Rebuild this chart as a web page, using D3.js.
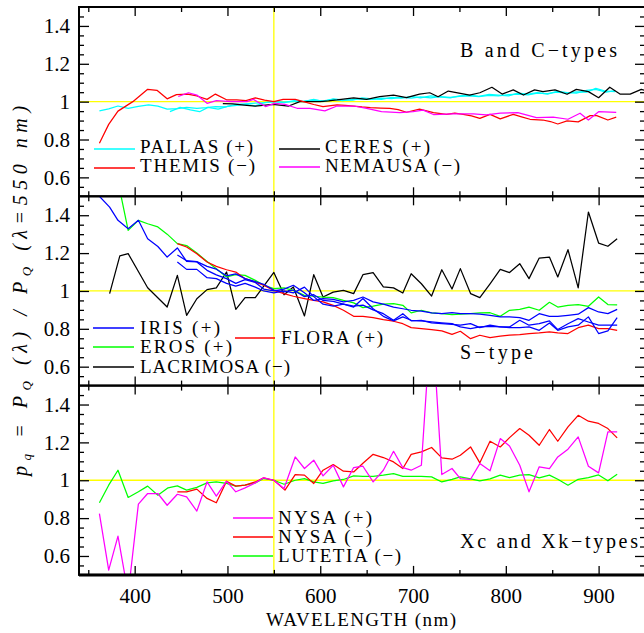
<!DOCTYPE html>
<html><head><meta charset="utf-8">
<script src="https://cdn.jsdelivr.net/npm/d3@7"></script>
<style>
body{margin:0;background:#fff}
svg{display:block}
text{font-family:"Liberation Serif","DejaVu Serif","Times New Roman",serif;fill:#000}
</style>
</head><body>
<svg id="chart" width="644" height="633"></svg>
<script>
// ---------------- DATA ----------------
const xMajorTicks = [400, 500, 600, 700, 800, 900];
const yMajorTicks = [0.6, 0.8, 1.0, 1.2, 1.4];
const refWavelength = 550;
const refLevel = 1.0;

// Panel 1: B and C-types  [wavelength nm, Pq ratio]
const pallasA = [[362,.951],[372,.962],[382,.977],[393,.965],[404,.975],[415,.983],[425,.976],[435,.961],[446,.963],[456,.970],[467,.965],[477,.968],[487,.974],[498,.972],[508,.985],[519,.988],[530,.992],[540,.995],[550,1.0],[561,.998],[572,1.0],[582,1.003],[593,1.008],[603,1.004],[614,1.012],[624,1.006],[635,1.012],[645,1.015],[656,1.012],[666,1.018],[677,1.016],[687,1.022],[698,1.018],[708,1.025],[719,1.02],[729,1.026],[740,1.022],[750,1.028],[761,1.03],[771,1.026],[782,1.033],[792,1.03],[803,1.037],[813,1.04],[824,1.036],[834,1.045],[845,1.042],[855,1.05],[866,1.045],[876,1.052],[887,1.05],[897,1.07],[908,1.055],[918,1.053]];
const pallasB = [[438,.947],[449,.970],[460,.956],[470,.947],[479,.970],[490,.960],[500,.975],[510,.980],[520,.985],[530,.978],[540,.995],[550,1.0],[561,.995],[572,1.005],[582,1.0],[593,1.012],[603,1.0],[614,1.015],[624,1.01],[635,1.008],[645,1.02],[656,1.015],[666,1.012],[677,1.022],[687,1.018],[698,1.028],[708,1.02],[719,1.03],[729,1.025],[740,1.02],[750,1.03],[761,1.035],[771,1.028],[782,1.038],[792,1.035],[803,1.03],[813,1.045],[824,1.04],[834,1.048],[845,1.04],[855,1.055],[866,1.048],[876,1.045],[887,1.06],[897,1.065],[908,1.05],[918,1.058]];
const themis = [[362,.78],[372,.88],[382,.95],[398,1.0],[414,1.065],[424,1.06],[435,1.015],[445,1.037],[457,1.04],[467,1.03],[478,1.012],[487,1.04],[499,1.01],[510,1.01],[520,1.005],[530,1.02],[540,1.008],[550,1.0],[560,1.012],[573,1.012],[582,1.0],[593,.985],[603,.974],[618,.983],[627,.98],[636,.977],[645,.972],[654,.968],[665,.966],[675,.965],[684,.958],[693,.944],[707,.96],[722,.942],[736,.933],[745,.94],[754,.933],[763,.925],[772,.912],[783,.933],[794,.909],[808,.933],[817,.92],[826,.907],[840,.903],[848,.895],[856,.882],[866,.898],[878,.893],[891,.926],[898,.926],[910,.903],[919,.918]];
const ceres = [[495,.99],[506,.988],[518,.982],[530,.977],[549,.986],[566,.977],[578,1.0],[589,1.0],[600,1.0],[609,1.004],[618,1.009],[627,1.015],[636,1.02],[650,1.012],[664,1.026],[679,1.034],[693,1.021],[707,1.04],[718,1.047],[727,1.026],[738,1.056],[751,1.044],[761,1.035],[772,1.047],[785,1.076],[796,1.04],[808,1.062],[819,1.035],[831,1.062],[840,1.053],[853,1.062],[866,1.039],[876,1.065],[889,1.053],[900,1.021],[912,1.076],[923,1.04],[934,1.04],[946,1.065],[956,1.05]];
const nemausa = [[447,1.027],[458,1.047],[467,1.035],[478,.991],[488,1.005],[504,1.0],[521,1.0],[528,1.012],[541,.974],[551,.991],[562,.986],[575,.965],[589,.965],[605,.951],[618,.977],[636,.977],[650,.965],[666,.947],[686,.942],[700,.947],[711,.955],[722,.932],[743,.935],[765,.935],[779,.93],[794,.939],[813,.942],[833,.916],[851,.918],[867,.907],[880,.939],[889,.903],[900,.947],[919,.944]];

// Panel 2: S-type
const irisA = [[350,1.56],[361,1.505],[373,1.443],[382,1.373],[393,1.329],[404,1.373],[414,1.276],[425,1.235],[435,1.179],[446,1.227],[456,1.156],[467,1.153],[478,1.109],[488,1.085],[499,1.065],[509,1.04],[519,1.06],[530,1.045],[539,1.01],[550,1.0],[561,1.01],[571,1.03],[583,.99],[593,.95],[603,.96],[614,.955],[625,.942],[636,.95],[646,.968],[657,.942],[668,.93],[679,.915],[689,.906],[698,.898],[709,.894],[720,.884],[731,.88],[742,.885],[751,.88],[762,.88],[772,.877],[783,.871],[794,.863],[804,.863],[815,.859],[825,.845],[836,.88],[847,.866],[856,.866],[867,.871],[878,.877],[889,.912],[900,.889],[910,.88],[920,.903]];
const irisB = [[446,1.19],[456,1.16],[467,1.155],[478,1.13],[488,1.115],[499,1.08],[509,1.09],[519,1.065],[530,1.05],[539,1.035],[550,1.005],[561,.995],[571,1.005],[583,.97],[593,.98],[603,.95],[614,.945],[625,.93],[636,.915],[646,.96],[657,.906],[668,.866],[679,.842],[689,.863],[698,.845],[709,.842],[720,.836],[731,.831],[742,.827],[751,.81],[762,.801],[772,.81],[783,.813],[794,.81],[804,.806],[815,.806],[825,.81],[836,.792],[847,.831],[856,.792],[867,.81],[878,.819],[889,.863],[900,.775],[910,.789],[920,.859]];
const irisC = [[446,1.153],[456,1.114],[467,1.114],[478,1.07],[488,1.065],[499,1.04],[509,1.025],[519,1.04],[530,1.02],[539,1.0],[550,.99],[561,1.0],[571,.99],[583,1.02],[593,.97],[603,.93],[614,.92],[625,.93],[636,.92],[646,.925],[657,.9],[668,.88],[679,.845],[689,.88],[698,.842],[709,.845],[720,.831],[731,.827],[742,.824],[751,.819],[762,.827],[772,.806],[783,.819],[794,.81],[804,.81],[815,.845],[825,.819],[836,.827],[847,.842],[856,.796],[867,.827],[878,.854],[889,.836],[900,.819],[910,.819],[920,.819]];
const eros = [[382,1.58],[393,1.32],[404,1.373],[414,1.355],[425,1.338],[435,1.30],[446,1.25],[456,1.24],[467,1.2],[478,1.156],[488,1.117],[499,1.074],[509,1.086],[519,1.082],[530,1.056],[539,1.03],[550,1.012],[561,1.016],[571,1.003],[583,.977],[593,.972],[603,.968],[614,.965],[625,.95],[636,.937],[646,.912],[657,.92],[668,.93],[679,.933],[689,.924],[698,.884],[709,.898],[720,.884],[731,.88],[742,.875],[751,.877],[762,.88],[772,.884],[783,.885],[794,.866],[804,.898],[815,.903],[825,.915],[836,.898],[847,.94],[856,.915],[867,.924],[878,.928],[889,.919],[900,.968],[910,.928],[920,.926]];
const lacrimosa = [[373,.986],[384,1.185],[393,1.197],[414,1.017],[435,.915],[446,1.082],[456,.871],[467,.959],[478,1.007],[488,1.016],[499,1.1],[509,.903],[519,.965],[530,.965],[550,1.098],[561,.98],[571,1.021],[583,.868],[593,1.086],[603,.968],[614,.994],[625,1.003],[636,.986],[646,1.086],[657,1.097],[668,1.021],[679,1.016],[689,.989],[698,1.091],[709,1.038],[720,.973],[731,1.112],[742,1.01],[751,1.118],[762,.986],[772,.965],[783,1.038],[794,1.114],[804,1.097],[815,1.144],[825,1.065],[836,1.174],[847,1.179],[856,1.074],[867,1.218],[878,1.016],[889,1.417],[900,1.253],[910,1.236],[920,1.276]];
const flora = [[446,1.25],[456,1.232],[467,1.197],[478,1.153],[488,1.13],[499,1.112],[509,1.1],[519,1.065],[530,1.047],[539,1.03],[550,1.003],[561,.986],[571,.972],[583,.96],[593,.95],[603,.942],[614,.924],[625,.898],[636,.866],[646,.866],[657,.859],[668,.848],[679,.84],[689,.827],[698,.806],[709,.801],[720,.796],[731,.789],[742,.771],[751,.787],[762,.748],[772,.766],[783,.754],[794,.761],[804,.766],[815,.769],[825,.775],[836,.778],[847,.784],[856,.778],[867,.775],[878,.806],[889,.819],[900,.801],[910,.801],[920,.792]];

// Panel 3: Xc and Xk-types
const nysaPlus = [[362,.824],[372,.525],[382,.705],[393,.40],[404,.874],[414,.93],[425,.93],[435,.868],[446,.926],[456,.912],[467,.837],[478,.991],[488,.916],[499,.995],[509,.939],[519,.96],[530,.986],[539,1.013],[550,1.0],[561,.956],[573,1.123],[583,1.062],[593,1.106],[603,1.023],[614,1.079],[625,.965],[636,1.067],[646,1.074],[657,.991],[668,1.053],[679,1.153],[689,1.067],[698,1.053],[709,1.079],[720,1.9],[731,1.03],[742,1.062],[751,1.009],[762,1.005],[772,1.088],[783,1.05],[794,1.22],[804,1.181],[815,1.079],[825,.939],[836,1.071],[847,1.062],[856,1.123],[867,1.164],[878,1.229],[889,1.074],[900,1.039],[910,1.255],[920,1.255]];
const nysaMinus = [[446,.939],[456,.939],[467,.953],[478,.904],[488,.881],[499,.995],[509,.969],[519,.974],[530,.991],[539,1.013],[550,1.0],[562,.948],[573,1.03],[583,1.027],[593,.983],[603,1.053],[614,1.083],[625,1.048],[636,1.044],[646,1.09],[657,1.137],[668,1.12],[679,1.097],[689,1.062],[698,1.137],[709,1.15],[720,1.173],[731,1.118],[742,1.111],[751,1.132],[762,1.176],[772,1.092],[783,1.206],[794,1.176],[804,1.225],[815,1.273],[825,1.238],[836,1.185],[847,1.268],[856,1.206],[867,1.282],[878,1.343],[889,1.312],[900,1.3],[910,1.273],[920,1.224]];
const lutetia = [[362,.881],[372,.974],[382,1.053],[393,.909],[404,.939],[414,.969],[425,.921],[436,.96],[446,.97],[456,.948],[467,.962],[478,.986],[488,.991],[499,.983],[509,.969],[519,.974],[530,.986],[539,1.009],[550,1.0],[561,.979],[573,1.0],[583,1.009],[593,.991],[603,.983],[614,.997],[625,1.004],[636,1.023],[646,1.021],[657,1.021],[668,1.027],[679,1.035],[689,1.021],[698,1.021],[709,1.021],[720,1.018],[731,.991],[742,1.005],[751,1.018],[762,1.007],[772,.997],[783,1.007],[794,1.027],[804,1.014],[815,1.027],[825,1.03],[836,1.013],[847,1.027],[856,1.005],[867,.974],[878,1.005],[889,1.014],[900,1.028],[910,.997],[920,1.032]];

const panelLabels = ["B and C\u2212types", "S\u2212type", "Xc and Xk\u2212types"];

// ---------------- LAYOUT ----------------
const COL = {cyan:"#00ffff", red:"#ff0000", black:"#000000", magenta:"#ff00ff", blue:"#0000ff", green:"#00ff00", yellow:"#ffff00"};
const left = 79, right = 645, top0 = 7, ph = 189.3;
const FONT = '"Liberation Serif","DejaVu Serif",serif';

const panels = [
  { series:[{d:pallasA,c:COL.cyan},{d:pallasB,c:COL.cyan},{d:ceres,c:COL.black},{d:themis,c:COL.red},{d:nemausa,c:COL.magenta}],
    label:{t:panelLabels[0], x:460, y:57, w:157},
    legend:[
      {t:"PALLAS (+)", c:COL.cyan, x1:94, x2:135, ly:149, tx:140, ty:153, w:113},
      {t:"THEMIS (\u2212)", c:COL.red, x1:94, x2:135, ly:168, tx:140, ty:172, w:115},
      {t:"CERES (+)", c:COL.black, x1:279, x2:320, ly:149, tx:325, ty:153, w:105},
      {t:"NEMAUSA (\u2212)", c:COL.magenta, x1:279, x2:320, ly:167, tx:325, ty:172, w:135}
    ]},
  { series:[{d:lacrimosa,c:COL.black},{d:eros,c:COL.green},{d:flora,c:COL.red},{d:irisA,c:COL.blue},{d:irisB,c:COL.blue},{d:irisC,c:COL.blue}],
    label:{t:panelLabels[1], x:460, y:359, w:73},
    legend:[
      {t:"IRIS (+)", c:COL.blue, x1:93, x2:134, ly:328, tx:140, ty:334, w:80},
      {t:"EROS (+)", c:COL.green, x1:93, x2:134, ly:347, tx:140, ty:353, w:92},
      {t:"LACRIMOSA (\u2212)", c:COL.black, x1:93, x2:134, ly:367, tx:140, ty:373, w:150},
      {t:"FLORA (+)", c:COL.red, x1:235, x2:275, ly:338, tx:281, ty:344, w:102}
    ]},
  { series:[{d:lutetia,c:COL.green},{d:nysaMinus,c:COL.red},{d:nysaPlus,c:COL.magenta}],
    label:{t:panelLabels[2], x:460, y:548, w:178},
    legend:[
      {t:"NYSA (+)", c:COL.magenta, x1:233, x2:273, ly:518, tx:278, ty:524, w:94},
      {t:"NYSA (\u2212)", c:COL.red, x1:233, x2:273, ly:537, tx:278, ty:543, w:94},
      {t:"LUTETIA (\u2212)", c:COL.green, x1:233, x2:273, ly:556, tx:278, ty:562, w:123}
    ]}
];

const svg = d3.select("#chart");
const x = d3.scaleLinear().domain([340, 950]).range([left, right]);
const xMinor = d3.range(350, 951, 50).filter(v => v % 100 !== 0);
const yMinor = d3.range(11, 30).map(i => i * 0.05).filter(v => Math.abs(v*5 - Math.round(v*5)) > 1e-6);

const defs = svg.append("defs");

panels.forEach((p, i) => {
  const t = top0 + i * ph, b = t + ph;
  const y = d3.scaleLinear().domain([0.5, 1.5]).range([b, t]);
  const g = svg.append("g");
  defs.append("clipPath").attr("id", "clip" + i)
    .append("rect").attr("x", left).attr("y", t).attr("width", right - left).attr("height", ph);

  const plot = g.append("g").attr("clip-path", `url(#clip${i})`);
  plot.append("line").attr("x1", left).attr("x2", right).attr("y1", y(refLevel)).attr("y2", y(refLevel))
    .attr("stroke", COL.yellow).attr("stroke-width", 1.3);
  plot.append("line").attr("x1", x(refWavelength)).attr("x2", x(refWavelength)).attr("y1", t).attr("y2", b)
    .attr("stroke", COL.yellow).attr("stroke-width", 1.3);

  const line = d3.line().x(d => x(d[0])).y(d => y(d[1]));
  p.series.forEach(s => {
    plot.append("path").attr("d", line(s.d)).attr("fill", "none")
      .attr("stroke", s.c).attr("stroke-width", 1.25).attr("stroke-linejoin", "round");
  });

  const styleAxis = sel => {
    sel.select(".domain").remove();
    sel.selectAll(".tick line").attr("stroke", "#000").attr("stroke-width", 1.3);
    sel.selectAll("text").style("font-family", FONT).attr("font-size", 21);
  };
  g.append("g").attr("transform", `translate(${left},0)`)
    .call(d3.axisLeft(y).tickValues(yMajorTicks).tickSize(-10).tickPadding(9).tickFormat(d3.format("~g")))
    .call(styleAxis);
  g.append("g").attr("transform", `translate(${left},0)`)
    .call(d3.axisLeft(y).tickValues(yMinor).tickSize(-5).tickFormat("")).call(styleAxis);
  g.append("g").attr("transform", `translate(${right},0)`)
    .call(d3.axisRight(y).tickValues(yMajorTicks).tickSize(-10).tickFormat("")).call(styleAxis);
  g.append("g").attr("transform", `translate(${right},0)`)
    .call(d3.axisRight(y).tickValues(yMinor).tickSize(-5).tickFormat("")).call(styleAxis);
  g.append("g").attr("transform", `translate(0,${t})`)
    .call(d3.axisTop(x).tickValues(xMajorTicks).tickSize(-9).tickFormat("")).call(styleAxis);
  g.append("g").attr("transform", `translate(0,${t})`)
    .call(d3.axisTop(x).tickValues(xMinor).tickSize(-5).tickFormat("")).call(styleAxis);
  g.append("g").attr("transform", `translate(0,${b})`)
    .call(d3.axisBottom(x).tickValues(xMajorTicks).tickSize(-9).tickPadding(13).tickFormat(i === 2 ? d3.format("d") : ""))
    .call(styleAxis);
  g.append("g").attr("transform", `translate(0,${b})`)
    .call(d3.axisBottom(x).tickValues(xMinor).tickSize(-5).tickFormat("")).call(styleAxis);

  g.append("rect").attr("x", left).attr("y", t).attr("width", right - left).attr("height", ph)
    .attr("fill", "none").attr("stroke", "#000").attr("stroke-width", 2);

  p.legend.forEach(l => {
    g.append("line").attr("x1", l.x1).attr("x2", l.x2).attr("y1", l.ly).attr("y2", l.ly)
      .attr("stroke", l.c).attr("stroke-width", 1.3);
    g.append("text").attr("x", l.tx).attr("y", l.ty).attr("font-size", 19)
      .attr("textLength", l.w).attr("lengthAdjust", "spacing").text(l.t);
  });
  g.append("text").attr("x", p.label.x).attr("y", p.label.y).attr("font-size", 20)
    .attr("textLength", p.label.w).attr("lengthAdjust", "spacing").text(p.label.t);
});

svg.append("line").attr("x1", left).attr("x2", right).attr("y1", top0 + 3*ph).attr("y2", top0 + 3*ph)
  .attr("stroke", "#000").attr("stroke-width", 3);

svg.append("text").attr("x", (left + right) / 2 - 1).attr("y", 626).attr("text-anchor", "middle")
  .attr("font-size", 19).attr("textLength", 190).attr("lengthAdjust", "spacing").text("WAVELENGTH (nm)");

const yt = svg.append("text").attr("transform", `translate(27,${top0 + 1.5*ph}) rotate(-90)`)
  .attr("text-anchor", "middle").attr("font-size", 20).attr("font-style", "italic")
  .attr("textLength", 370).attr("lengthAdjust", "spacing");
yt.append("tspan").text("p");
yt.append("tspan").attr("font-size", 13).attr("dy", 4).text("q");
yt.append("tspan").attr("dy", -4).text(" = P");
yt.append("tspan").attr("font-size", 13).attr("dy", 4).text("Q");
yt.append("tspan").attr("dy", -4).text(" (\u03bb) / P");
yt.append("tspan").attr("font-size", 13).attr("dy", 4).text("Q");
yt.append("tspan").attr("dy", -4).text(" (\u03bb=550 nm)");
</script>
</body></html>
